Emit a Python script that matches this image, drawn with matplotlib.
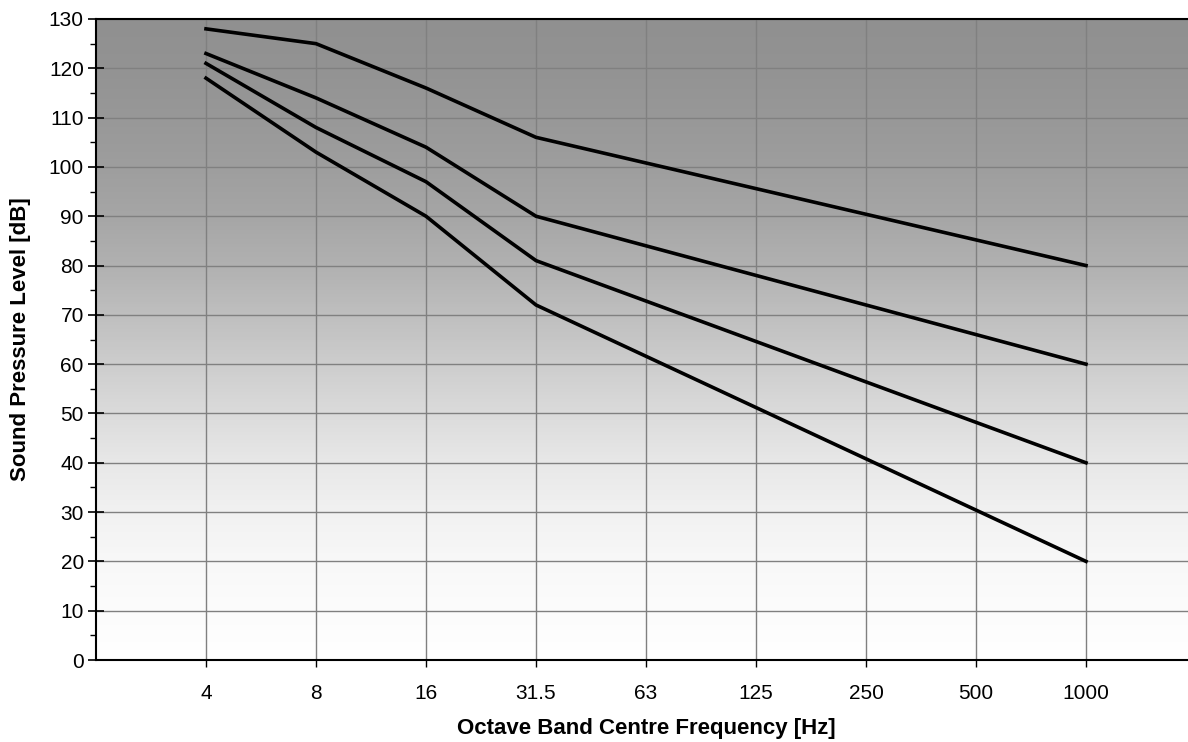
import matplotlib.pyplot as plt
import numpy as np
from matplotlib.colors import LinearSegmentedColormap

plt.rcParams['font.family'] = ['Liberation Sans', 'DejaVu Sans']

# octave band centres and the four curves (dB)
freqs = ['4', '8', '16', '31.5', '63', '125', '250', '500', '1000']
curve_a = [128, 125, 116, 106, 100.8, 95.6, 90.4, 85.2, 80]
curve_b = [123, 114, 104, 90, 84, 78, 72, 66, 60]
curve_c = [121, 108, 97, 81, 72.8, 64.6, 56.4, 48.2, 40]
curve_d = [118, 103, 90, 72, 61.6, 51.2, 40.8, 30.4, 20]

fig = plt.figure(figsize=(11.88, 7.42), dpi=100)
# plot area runs past the right edge of the image, like the original
ax = fig.add_axes([96/1188, 82/742, 1100/1188, 641/742])

x = np.arange(len(freqs))
ax.set_xlim(-1, len(freqs))
ax.set_ylim(0, 130)

# grey gradient background, dark at top, white at bottom
bg = LinearSegmentedColormap.from_list('bg', [
    '#ffffff', '#fcfcfc', '#f8f8f8', '#f1f1f1', '#e8e8e8', '#dbdbdb', '#cdcdcd',
    '#bfbfbf', '#b1b1b1', '#a6a6a6', '#9e9e9e', '#989898', '#939393', '#909090'])
grad = np.linspace(0, 1, 512).reshape(-1, 1)
ax.imshow(grad, aspect='auto', cmap=bg, vmin=0, vmax=1,
          extent=[-1, len(freqs), 0, 130], origin='lower', zorder=0)

ax.set_yticks(np.arange(0, 131, 10))
ax.set_yticks(np.arange(5, 130, 10), minor=True)
ax.set_xticks(x)
ax.set_xticklabels(freqs)
ax.grid(True, which='major', color='#808080', linewidth=1.0, zorder=1)
ax.set_axisbelow(False)

for y in [curve_a, curve_b, curve_c, curve_d]:
    ax.plot(x, y, color='black', linewidth=2.6, zorder=3, solid_joinstyle='miter')

for s in ax.spines.values():
    s.set_linewidth(1.5)
    s.set_color('black')
    s.set_zorder(4)

ax.tick_params(axis='y', which='major', direction='inout', length=11.5, width=1.2, labelsize=15, pad=3)
ax.tick_params(axis='y', which='minor', direction='out', length=4.5, width=1.0)
ax.tick_params(axis='x', which='major', direction='out', length=5, width=1.0, labelsize=15, pad=12)

ax.set_xlabel('Octave Band Centre Frequency [Hz]', fontsize=16, fontweight='bold', labelpad=11)
ax.set_ylabel('Sound Pressure Level [dB]', fontsize=16, fontweight='bold', labelpad=13)

fig.savefig('out.png', dpi=100)
